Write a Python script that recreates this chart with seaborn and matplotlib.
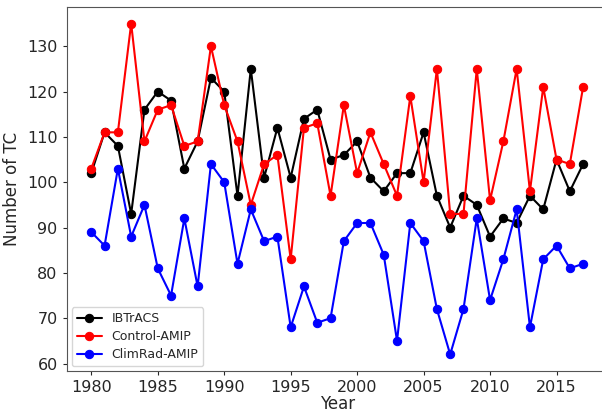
import matplotlib
matplotlib.use("Agg")
import matplotlib.pyplot as plt
import seaborn as sns
import pandas as pd

years = list(range(1980, 2018))

ibtracs = [102, 111, 108, 93, 116, 120, 118, 103, 109, 123,
           120, 97, 125, 101, 112, 101, 114, 116, 105, 106,
           109, 101, 98, 102, 102, 111, 97, 90, 97, 95,
           88, 92, 91, 97, 94, 105, 98, 104]

control_amip = [103, 111, 111, 135, 109, 116, 117, 108, 109, 130,
                117, 109, 95, 104, 106, 83, 112, 113, 97, 117,
                102, 111, 104, 97, 119, 100, 125, 93, 93, 125,
                96, 109, 125, 98, 121, 105, 104, 121]

climrad_amip = [89, 86, 103, 88, 95, 81, 75, 92, 77, 104,
                100, 82, 94, 87, 88, 68, 77, 69, 70, 87,
                91, 91, 84, 65, 91, 87, 72, 62, 72, 92,
                74, 83, 94, 68, 83, 86, 81, 82]

names = ["IBTrACS", "Control-AMIP", "ClimRad-AMIP"]
colors = ["black", "red", "blue"]

df = pd.DataFrame({
    "Year": years * 3,
    "Number of TC": ibtracs + control_amip + climrad_amip,
    "Source": [n for n in names for _ in years],
})

sns.set_style("ticks")
plt.rcParams["font.family"] = ["DejaVu Sans"]

fig = plt.figure(figsize=(6.02, 4.15), dpi=100)
ax = fig.add_axes([66.7 / 602, 44 / 415, 541 / 602, 364 / 415])

sns.lineplot(data=df, x="Year", y="Number of TC", hue="Source",
             palette=dict(zip(names, colors)), marker="o", markersize=6,
             markeredgecolor=None, linewidth=1.5, ax=ax)

ax.set_xlim(1978.15, 2018.85)
ax.set_ylim(58.35, 138.65)
ax.set_xticks(range(1980, 2016, 5))
ax.tick_params(labelsize=11.5, length=3, pad=3.5)
ax.set_xlabel("Year", fontsize=12, labelpad=0)
ax.set_ylabel("Number of TC", fontsize=12, labelpad=4)
for s in ax.spines.values():
    s.set_color("#555555")

leg = ax.legend(loc="lower left", fontsize=9, frameon=True,
                labelspacing=0.4, borderaxespad=0.4)
leg.set_title(None)

fig.savefig("out.png", dpi=100)
